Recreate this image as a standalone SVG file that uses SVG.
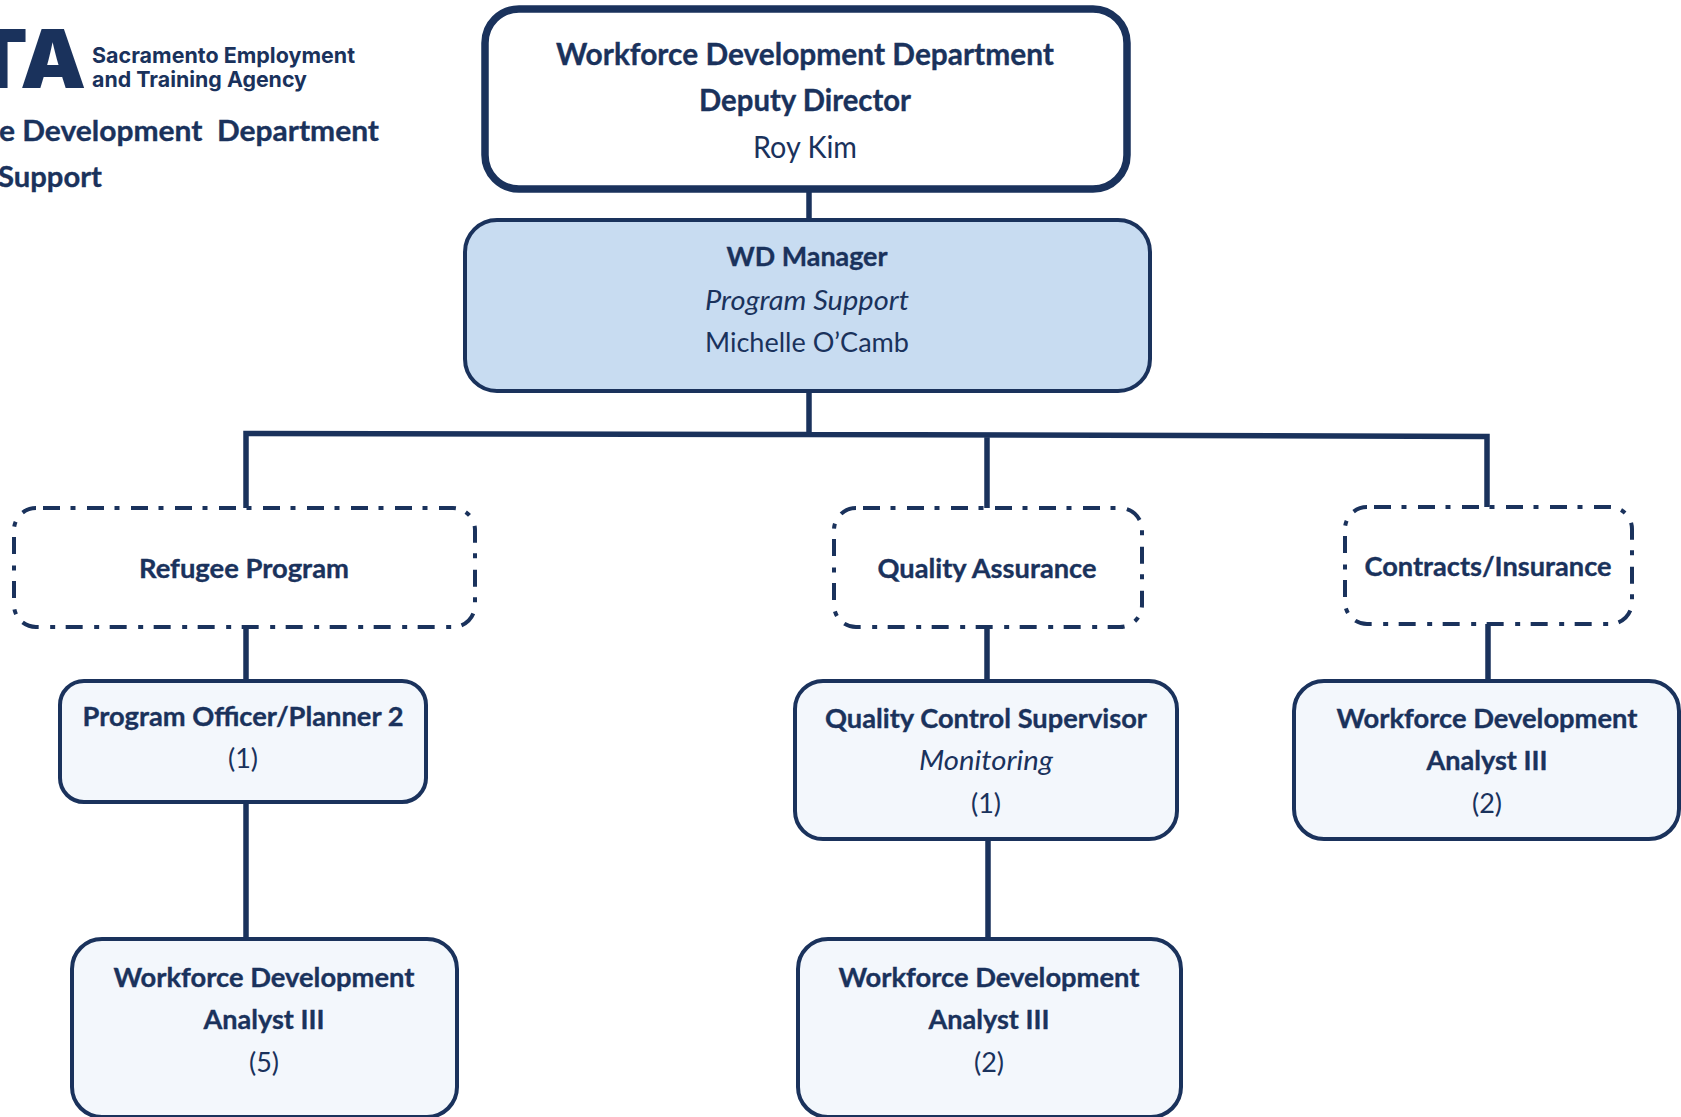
<svg xmlns="http://www.w3.org/2000/svg" width="1681" height="1117" viewBox="0 0 1681 1117">
<style>
text{font-family:"Lato","Liberation Sans",sans-serif;fill:#1a325c;text-anchor:middle;font-size:27px}
.b{font-weight:700;stroke:#1a325c;stroke-width:.35}
.i{font-style:italic}
.box{fill:#f3f7fc;stroke:#1a325c;stroke-width:4}
.dash{fill:#fff;stroke:#1a325c;stroke-width:4;stroke-dasharray:17 10.5 5 11.5;stroke-dashoffset:-7}
.c{fill:none;stroke:#1a325c;stroke-width:5.5}
.logo{font-family:Inter,"Liberation Sans",sans-serif;text-anchor:start}
.logo-small{font-size:21.5px;font-weight:700}
</style>
<g id="connectors">
<path class="c" d="M809 189V220M809 391V434.5M246 508V433.5L809 434.5L1487 436.5V507M987 435.5V508M246 627V681M246 802V939M987 627V681M988 839V939M1488 624V681"/>
</g>
<g id="logo">
<text class="logo" x="-29" y="88" style="font-size:81px;font-weight:900" textLength="115" lengthAdjust="spacingAndGlyphs">TA</text>
<text class="logo logo-small" x="92" y="63" textLength="263" lengthAdjust="spacingAndGlyphs">Sacramento Employment</text>
<text class="logo logo-small" x="92" y="87" textLength="215" lengthAdjust="spacingAndGlyphs">and Training Agency</text>
</g>
<g id="heading">
<text class="b" x="-1" y="141" style="text-anchor:start;font-size:29px;white-space:pre" textLength="380" lengthAdjust="spacingAndGlyphs">e Development  Department</text>
<text class="b" x="-2" y="187" style="text-anchor:start;font-size:29px" textLength="104" lengthAdjust="spacingAndGlyphs">Support</text>
</g>
<g id="deputy-director">
<rect x="485" y="9" width="642" height="180" rx="34" fill="#fff" stroke="#1a325c" stroke-width="7.5"/>
<text class="b" x="805" y="65" style="font-size:30px" textLength="498" lengthAdjust="spacingAndGlyphs">Workforce Development Department</text>
<text class="b" x="805" y="111" style="font-size:30px" textLength="212" lengthAdjust="spacingAndGlyphs">Deputy Director</text>
<text x="805" y="158" style="font-size:30px" textLength="104" lengthAdjust="spacingAndGlyphs">Roy Kim</text>
</g>
<g id="wd-manager">
<rect x="465" y="220" width="685" height="171" rx="32" fill="#c8dcf1" stroke="#1a325c" stroke-width="4"/>
<text class="b" x="807" y="266" textLength="161" lengthAdjust="spacingAndGlyphs">WD Manager</text>
<text class="i" x="807" y="310" textLength="204" lengthAdjust="spacingAndGlyphs">Program Support</text>
<text x="807" y="352" textLength="204" lengthAdjust="spacingAndGlyphs">Michelle O’Camb</text>
</g>
<g id="refugee-program">
<rect class="dash" x="14" y="508" width="461" height="119" rx="22"/>
<text class="b" x="244" y="578" textLength="210" lengthAdjust="spacingAndGlyphs">Refugee Program</text>
</g>
<g id="quality-assurance">
<rect class="dash" x="834" y="508" width="308" height="119" rx="22"/>
<text class="b" x="987" y="578" textLength="219" lengthAdjust="spacingAndGlyphs">Quality Assurance</text>
</g>
<g id="contracts-insurance">
<rect class="dash" x="1345" y="507" width="287" height="117" rx="22"/>
<text class="b" x="1488" y="576" textLength="247" lengthAdjust="spacingAndGlyphs">Contracts/Insurance</text>
</g>
<g id="program-officer">
<rect class="box" x="60" y="681" width="366" height="121" rx="24"/>
<text class="b" x="243" y="725.5" textLength="321" lengthAdjust="spacingAndGlyphs">Program Officer/Planner 2</text>
<text x="243" y="768">(1)</text>
</g>
<g id="quality-control">
<rect class="box" x="795" y="681" width="382" height="158" rx="28"/>
<text class="b" x="986" y="727.5" textLength="322" lengthAdjust="spacingAndGlyphs">Quality Control Supervisor</text>
<text class="i" x="986" y="770" textLength="134" lengthAdjust="spacingAndGlyphs">Monitoring</text>
<text x="986" y="813">(1)</text>
</g>
<g id="analyst-contracts">
<rect class="box" x="1294" y="681" width="385" height="158" rx="30"/>
<text class="b" x="1487" y="727.5" textLength="301" lengthAdjust="spacingAndGlyphs">Workforce Development</text>
<text class="b" x="1487" y="770" textLength="121" lengthAdjust="spacingAndGlyphs">Analyst III</text>
<text x="1487" y="813">(2)</text>
</g>
<g id="analyst-refugee">
<rect class="box" x="72" y="939" width="385" height="178" rx="30"/>
<text class="b" x="264" y="986.5" textLength="301" lengthAdjust="spacingAndGlyphs">Workforce Development</text>
<text class="b" x="264" y="1029" textLength="121" lengthAdjust="spacingAndGlyphs">Analyst III</text>
<text x="264" y="1072">(5)</text>
</g>
<g id="analyst-quality">
<rect class="box" x="798" y="939" width="383" height="178" rx="30"/>
<text class="b" x="989" y="986.5" textLength="301" lengthAdjust="spacingAndGlyphs">Workforce Development</text>
<text class="b" x="989" y="1029" textLength="121" lengthAdjust="spacingAndGlyphs">Analyst III</text>
<text x="989" y="1072">(2)</text>
</g>
</svg>
